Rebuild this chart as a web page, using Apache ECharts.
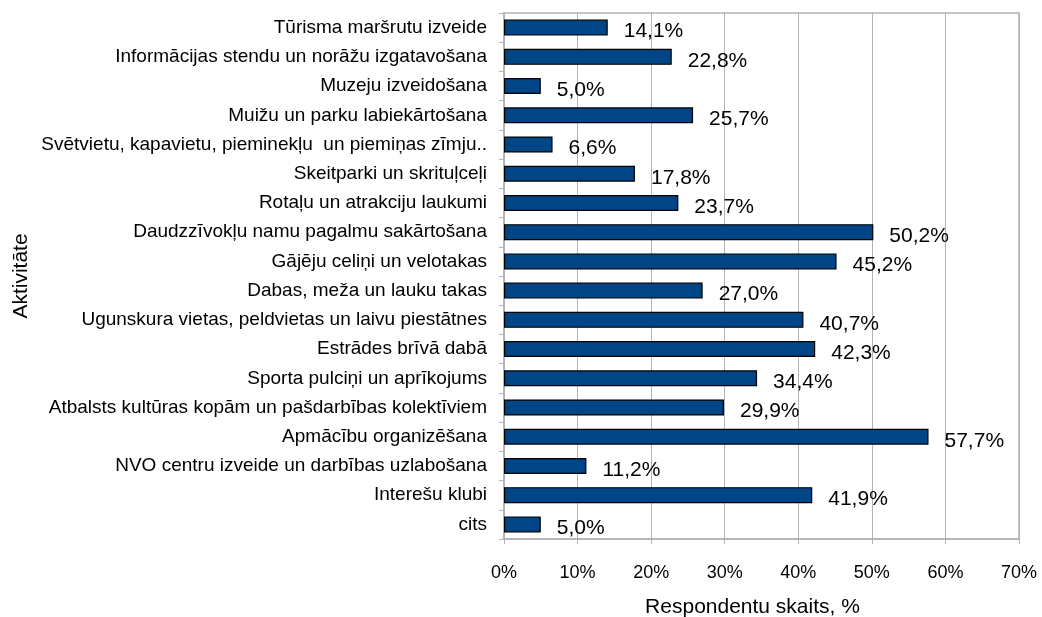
<!DOCTYPE html>
<html>
<head>
<meta charset="utf-8">
<script src="https://cdn.jsdelivr.net/npm/echarts@6/dist/echarts.min.js"></script>
<style>
    html, body { margin: 0; padding: 0; background: #fff; }
    #chart { width: 1042px; height: 617px; }
</style>
</head>
<body>
<div id="chart"></div>
<script>
let categories = [
    'Tūrisma maršrutu izveide',
    'Informācijas stendu un norāžu izgatavošana',
    'Muzeju izveidošana',
    'Muižu un parku labiekārtošana',
    'Svētvietu, kapavietu, pieminekļu  un piemiņas zīmju..',
    'Skeitparki un skrituļceļi',
    'Rotaļu un atrakciju laukumi',
    'Daudzzīvokļu namu pagalmu sakārtošana',
    'Gājēju celiņi un velotakas',
    'Dabas, meža un lauku takas',
    'Ugunskura vietas, peldvietas un laivu piestātnes',
    'Estrādes brīvā dabā',
    'Sporta pulciņi un aprīkojums',
    'Atbalsts kultūras kopām un pašdarbības kolektīviem',
    'Apmācību organizēšana',
    'NVO centru izveide un darbības uzlabošana',
    'Interešu klubi',
    'cits'
];
let values = [14.1, 22.8, 5.0, 25.7, 6.6, 17.8, 23.7, 50.2, 45.2, 27.0, 40.7, 42.3, 34.4, 29.9, 57.7, 11.2, 41.9, 5.0];
let xTicks = [0, 10, 20, 30, 40, 50, 60, 70];

let font = "'Liberation Sans', Arial, sans-serif";
let gridColor = '#b3b3b3';

let chart = echarts.init(document.getElementById('chart'));
let option = {
    animation: false,
    grid: {
        left: 504,
        top: 13,
        right: 23,
        bottom: 78,
        containLabel: false,
        outerBoundsMode: 'none',
        show: true,
        borderColor: gridColor,
        borderWidth: 1.5
    },
    xAxis: {
        type: 'value',
        min: xTicks[0],
        max: xTicks[xTicks.length - 1],
        interval: 10,
        name: 'Respondentu skaits, %',
        nameLocation: 'middle',
        nameGap: 58,
        nameTextStyle: {
            fontFamily: font,
            fontSize: 21,
            color: '#000',
            padding: [0, 18, 0, 0]
        },
        axisLine: { show: true, lineStyle: { color: gridColor, width: 1.5 } },
        axisTick: { show: true, length: 5, lineStyle: { color: gridColor } },
        axisLabel: {
            margin: 25,
            fontFamily: font,
            fontSize: 18,
            color: '#000',
            formatter: function (v) {
                return v + '%';
            }
        },
        splitLine: { show: true, lineStyle: { color: gridColor, width: 1 } }
    },
    yAxis: {
        type: 'category',
        data: categories,
        inverse: true,
        name: 'Aktivitāte',
        nameLocation: 'middle',
        nameRotate: 90,
        nameGap: 472,
        nameTextStyle: {
            fontFamily: font,
            fontSize: 21,
            color: '#000'
        },
        axisLine: { show: true, lineStyle: { color: gridColor, width: 1.5 } },
        axisTick: { show: true, length: 5, lineStyle: { color: gridColor } },
        axisLabel: {
            margin: 17,
            fontFamily: font,
            fontSize: 19,
            color: '#000',
            interval: 0
        },
        splitLine: { show: false }
    },
    series: [
        {
            type: 'bar',
            data: values,
            barWidth: 16,
            itemStyle: {
                color: '#004586',
                borderColor: '#000',
                borderWidth: 1.2
            },
            label: {
                show: true,
                position: 'right',
                distance: 16,
                offset: [0, 4],
                fontFamily: font,
                fontSize: 21,
                color: '#000',
                formatter: function (p) {
                    return p.value.toFixed(1).replace('.', ',') + '%';
                }
            }
        }
    ]
};
chart.setOption(option, true);
</script>
</body>
</html>
